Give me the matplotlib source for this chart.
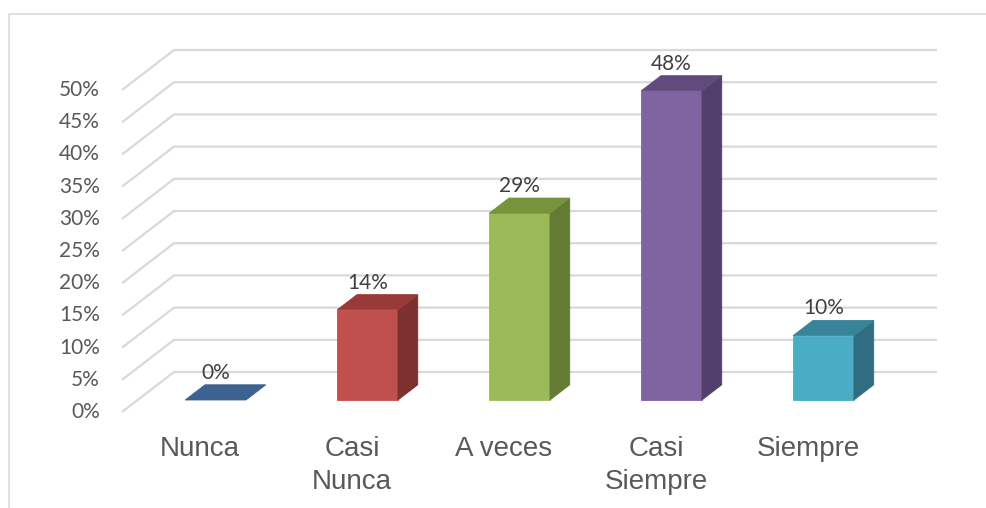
import matplotlib
matplotlib.use("Agg")
import matplotlib.pyplot as plt
from matplotlib.patches import Polygon, Rectangle

# survey answers and their shares (%)
categories = ["Nunca", "Casi\nNunca", "A veces", "Casi\nSiempre", "Siempre"]
values = [0, 14, 29, 48, 10]
yticks = [0, 5, 10, 15, 20, 25, 30, 35, 40, 45, 50]

# front, side, top shades for each bar
front_colors = ["#4F81BD", "#C0504D", "#9BBB59", "#8064A2", "#4BACC6"]
side_colors = ["#2F4D72", "#7D302E", "#637B33", "#533F6C", "#2F6E80"]
top_colors = ["#3D6190", "#983A38", "#77933C", "#614B7D", "#37849A"]

# oblique projection: depth d shifts points right and up
DX = 52 / 152
DY = 40 / 6.44


def proj(x, y, d):
    return (x + d * DX, y + d * DY)


fig = plt.figure(figsize=(9.87, 5.08), dpi=100)
ax = fig.add_axes([0, 0, 1, 1])
ax.set_xlim(-1.316, 5.178)
ax.set_ylim(-14.91, 63.98)
ax.axis("off")

# outer chart border (only top and left are in view)
fig.patches.append(Rectangle((9 / 987, -0.1), 1.2, 1 - 14 / 508 + 0.1,
                             transform=fig.transFigure, fill=False,
                             edgecolor="#D9D9D9", linewidth=1.2))

grid_c = "#D9D9D9"
xl, xr = -0.513, 4.507
for t in yticks:
    p0 = proj(xl, t, 0)
    p1 = proj(xl, t, 1)
    p2 = proj(xr, t, 1)
    ax.plot([p0[0], p1[0], p2[0]], [p0[1], p1[1], p2[1]],
            color=grid_c, linewidth=1.6, zorder=1, solid_capstyle="butt")
    ax.annotate(f"{t}%", xy=p0, xytext=(-16, 0), textcoords="offset points",
                ha="right", va="center", fontsize=15, family="Lato",
                color="#595959")

# bars drawn as front, side and top faces
hw = 0.2
d0, d1 = 0.3, 0.68
for i, v in enumerate(values):
    x0, x1 = i - hw, i + hw
    front = [proj(x0, 0, d0), proj(x1, 0, d0), proj(x1, v, d0), proj(x0, v, d0)]
    side = [proj(x1, 0, d0), proj(x1, 0, d1), proj(x1, v, d1), proj(x1, v, d0)]
    top = [proj(x0, v, d0), proj(x1, v, d0), proj(x1, v, d1), proj(x0, v, d1)]
    if v > 0:
        ax.add_patch(Polygon(front, closed=True, facecolor=front_colors[i],
                             edgecolor=front_colors[i], linewidth=0.6, zorder=3))
        ax.add_patch(Polygon(side, closed=True, facecolor=side_colors[i],
                             edgecolor=side_colors[i], linewidth=0.6, zorder=3))
    ax.add_patch(Polygon(top, closed=True, facecolor=top_colors[i],
                         edgecolor=top_colors[i], linewidth=0.6, zorder=3))

    lx = proj(i, v, d0)[0]
    ly = proj(i, v, d1)[1]
    ax.annotate(f"{v}%", xy=(lx, ly), xytext=(0, 1.5), textcoords="offset points",
                ha="center", va="bottom", fontsize=15, family="Lato",
                color="#404040", zorder=4)

    ax.annotate(categories[i], xy=(i, 0), xytext=(0, -17), textcoords="offset points",
                ha="center", va="top", multialignment="center", fontsize=20,
                family="Liberation Sans", color="#595959", linespacing=1.38)

fig.savefig("out.png", dpi=100)
